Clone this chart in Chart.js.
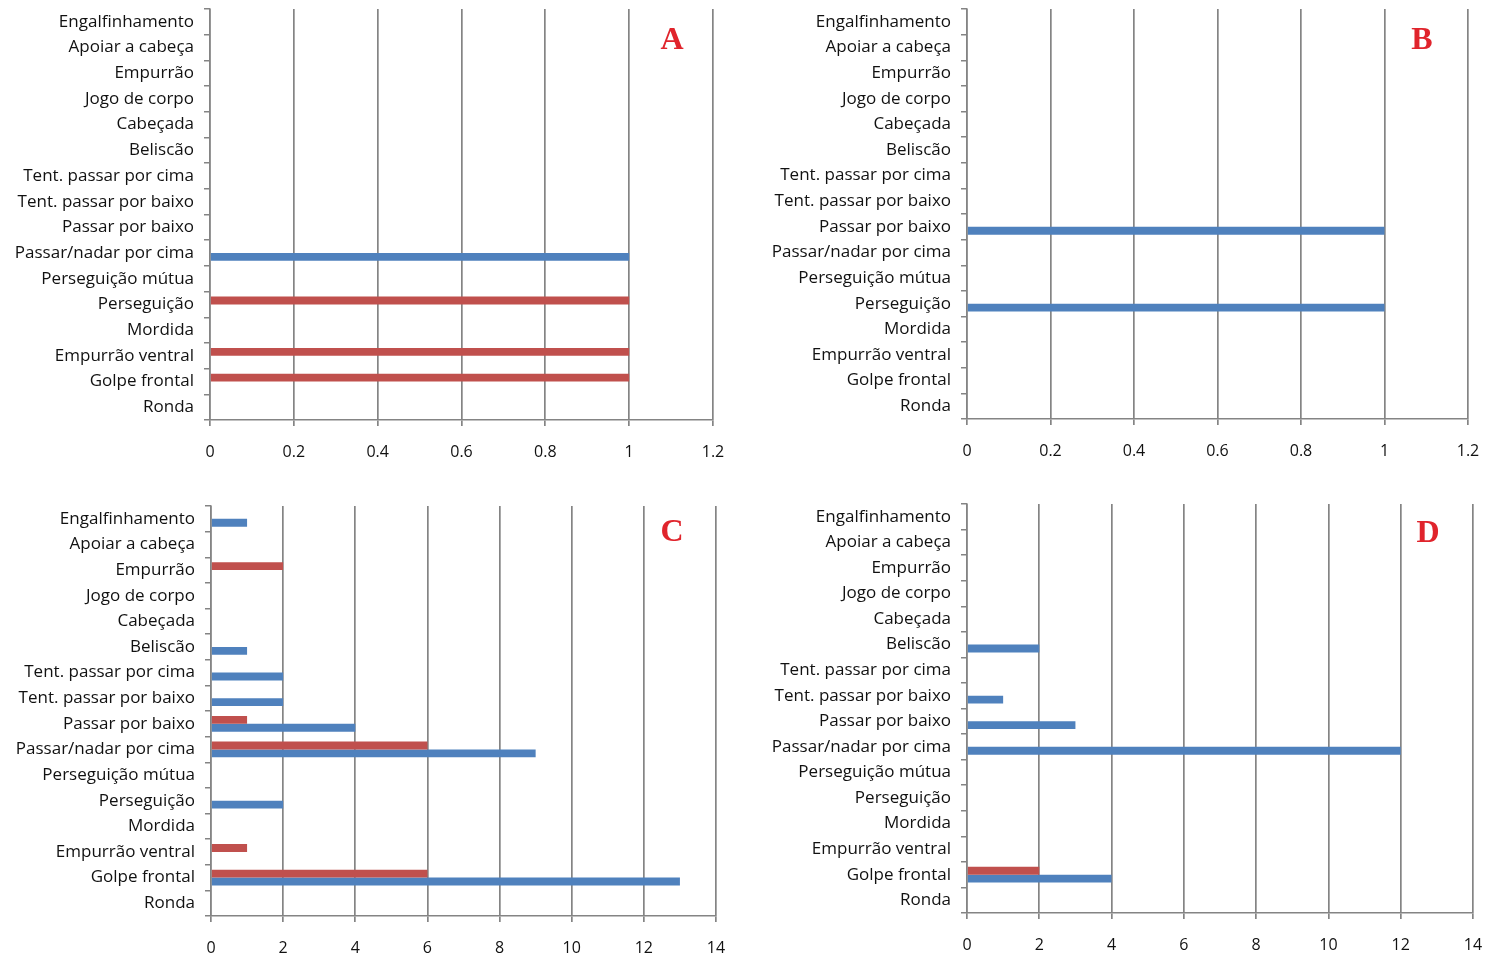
<!DOCTYPE html>
<html>
<head>
<meta charset="utf-8">
<script src="https://cdn.jsdelivr.net/npm/chart.js@4.4.1/dist/chart.umd.min.js"></script>
<style>
  html, body { margin: 0; padding: 0; background: #ffffff; }
  body { width: 1487px; height: 958px; position: relative; overflow: hidden; }
  canvas { position: absolute; }
</style>
</head>
<body>
<canvas id="panelA" width="740" height="470" style="left:0px;top:0px"></canvas>
<canvas id="panelB" width="737" height="470" style="left:750px;top:0px"></canvas>
<canvas id="panelC" width="740" height="468" style="left:0px;top:490px"></canvas>
<canvas id="panelD" width="737" height="468" style="left:750px;top:490px"></canvas>
<script>
// Behaviour categories, listed top to bottom
const behaviours = [
  'Engalfinhamento', 'Apoiar a cabeça', 'Empurrão', 'Jogo de corpo', 'Cabeçada',
  'Beliscão', 'Tent. passar por cima', 'Tent. passar por baixo', 'Passar por baixo',
  'Passar/nadar por cima', 'Perseguição mútua', 'Perseguição', 'Mordida',
  'Empurrão ventral', 'Golpe frontal', 'Ronda'
];

// Counts per behaviour (same order as behaviours)
const redA  = [0, 0, 0, 0, 0, 0, 0, 0, 0, 0, 0, 1, 0, 1, 1, 0];
const blueA = [0, 0, 0, 0, 0, 0, 0, 0, 0, 1, 0, 0, 0, 0, 0, 0];

const redB  = [0, 0, 0, 0, 0, 0, 0, 0, 0, 0, 0, 0, 0, 0, 0, 0];
const blueB = [0, 0, 0, 0, 0, 0, 0, 0, 1, 0, 0, 1, 0, 0, 0, 0];

const redC  = [0, 0, 2, 0, 0, 0, 0, 0, 1, 6, 0, 0, 0, 1, 6, 0];
const blueC = [1, 0, 0, 0, 0, 1, 2, 2, 4, 9, 0, 2, 0, 0, 13, 0];

const redD  = [0, 0, 0, 0, 0, 0, 0, 0, 0, 0, 0, 0, 0, 0, 2, 0];
const blueD = [0, 0, 0, 0, 0, 2, 0, 1, 3, 12, 0, 0, 0, 0, 4, 0];

// Value-axis tick labels
const ticksSmall = ['0', '0.2', '0.4', '0.6', '0.8', '1', '1.2'];
const ticksLarge = ['0', '2', '4', '6', '8', '10', '12', '14'];

const RED = '#c0504d';
const BLUE = '#4f81bd';
const GRID = '#848484';
const TEXT = '#111111';
const FONT = '"Open Sans"';

// Draws the panel letter near the top-right corner of the plot area
const panelLetter = {
  id: 'panelLetter',
  afterDraw(chart, args, opts) {
    const { ctx, chartArea } = chart;
    ctx.save();
    ctx.fillStyle = '#e0242c';
    ctx.font = 'bold 32px "Liberation Serif", "DejaVu Serif", serif';
    ctx.textAlign = 'center';
    ctx.textBaseline = 'middle';
    ctx.fillText(opts.text, chartArea.right + opts.dx, chartArea.top + opts.dy);
    ctx.restore();
  }
};

function makePanel(id, red, blue, tickLabels, step, box, letter) {
  const canvas = document.getElementById(id);
  const max = step * (tickLabels.length - 1);
  return new Chart(canvas, {
    type: 'bar',
    data: {
      labels: behaviours,
      datasets: [
        { data: red, backgroundColor: RED, borderWidth: 0, categoryPercentage: 0.61, barPercentage: 1.0 },
        { data: blue, backgroundColor: BLUE, borderWidth: 0, categoryPercentage: 0.61, barPercentage: 1.0 }
      ]
    },
    options: {
      indexAxis: 'y',
      responsive: false,
      animation: false,
      devicePixelRatio: 1,
      layout: { padding: { left: 0, top: box.top, right: box.right, bottom: 0 } },
      plugins: {
        legend: { display: false },
        tooltip: { enabled: false },
        panelLetter: letter
      },
      scales: {
        y: {
          type: 'category',
          offset: true,
          grid: { offset: true, drawOnChartArea: false, drawTicks: true, tickLength: 6, color: GRID, lineWidth: 1.5 },
          border: { color: GRID, width: 1.5 },
          ticks: { autoSkip: false, color: TEXT, padding: 10, font: { family: FONT, size: 17 } },
          afterFit(scale) {
            scale.width = box.left;
            scale.paddingTop = 0;
            scale.paddingBottom = 0;
          }
        },
        x: {
          min: 0,
          max: max,
          ticks: {
            stepSize: step,
            color: TEXT,
            padding: 17,
            font: { family: FONT, size: 16 },
            callback: (v, i) => tickLabels[i]
          },
          grid: { color: GRID, lineWidth: 1.7, tickLength: 6 },
          border: { color: GRID, width: 1.5 },
          afterFit(scale) {
            scale.height = box.bottom;
            scale.paddingLeft = 0;
            scale.paddingRight = 0;
          }
        }
      }
    },
    plugins: [panelLetter]
  });
}

makePanel('panelA', redA, blueA, ticksSmall, 0.2,
  { left: 210, top: 9, right: 27, bottom: 50 }, { text: 'A', dx: -41, dy: 32 });
makePanel('panelB', redB, blueB, ticksSmall, 0.2,
  { left: 217, top: 9, right: 19, bottom: 51 }, { text: 'B', dx: -46, dy: 32 });
makePanel('panelC', redC, blueC, ticksLarge, 2,
  { left: 211, top: 16, right: 24, bottom: 42 }, { text: 'C', dx: -44, dy: 27 });
makePanel('panelD', redD, blueD, ticksLarge, 2,
  { left: 217, top: 14, right: 14, bottom: 45 }, { text: 'D', dx: -45, dy: 30 });
</script>
</body>
</html>
